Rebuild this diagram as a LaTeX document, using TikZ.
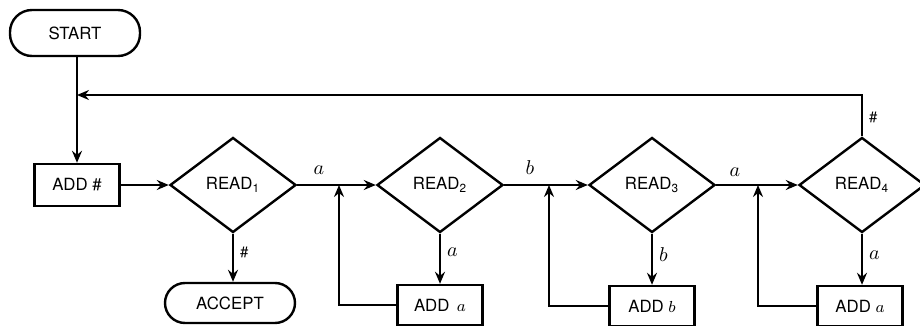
\documentclass[tikz,border=0pt]{standalone}
\usepackage{fontspec}
\setmainfont{TeX Gyre Heros}
\usetikzlibrary{shapes.geometric,arrows.meta,calc}
\begin{document}
\begin{tikzpicture}[x=0.5pt,y=-0.5pt,
  line width=1.2pt,
  font=\fontsize{8.4pt}{10pt}\selectfont,
  term/.style={draw,rounded corners=11pt,minimum width=65pt,minimum height=23pt,inner sep=0pt},
  term2/.style={draw,rounded corners=10pt,minimum width=65pt,minimum height=20pt,inner sep=0pt},
  act/.style={draw,rectangle,minimum width=42.5pt,minimum height=21pt,inner sep=0pt},
  dec/.style={draw,diamond,minimum width=63pt,minimum height=47.5pt,inner sep=0pt},
  arr/.style={-{Stealth[length=6pt,width=5pt,inset=2pt]}},
  lab/.style={inner sep=1pt,font=\fontsize{10pt}{12pt}\selectfont},
  hlab/.style={inner sep=1pt,font=\fontsize{7.5pt}{9pt}\selectfont}
]
\useasboundingbox (0,0) rectangle (920,326);
\node[term] (start) at (75,33) {START};
\node[act] (addh) at (77,185) {ADD \#};
\node[dec] (r1) at (233,185) {READ\textsubscript{1}};
\node[term2] (accept) at (230,303) {ACCEPT};
\node[dec] (r2) at (440,185) {READ\textsubscript{2}};
\node[act,minimum height=20pt] (adda1) at (440,305) {ADD \,$a$};
\node[dec] (r3) at (652,185) {READ\textsubscript{3}};
\node[act,minimum height=20pt] (addb) at (652,306) {ADD $b$};
\node[dec] (r4) at (862,185) {READ\textsubscript{4}};
\node[act,minimum height=20pt] (adda2) at (860,306) {ADD $a$};
\coordinate (fb) at (77,95);
\coordinate (j1) at (339,185);
\coordinate (j2) at (549,185);
\coordinate (j3) at (758,185);
% start to ADD #
\draw[arr] (addh.north |- start.south) -- (addh.north);
% feedback from READ4
\draw[arr] (r4.north) -- (r4.north |- fb) -- (fb);
\node[hlab,anchor=west] at (866,117) {\#};
% ADD # -> READ1
\draw[arr] (addh.east) -- (r1.west);
% READ1 -> ACCEPT
\draw[arr] (r1.south) -- (r1.south |- accept.north);
\node[hlab,anchor=west] at (237,252) {\#};
% READ1 -> READ2
\draw[arr] (r1.east) -- (r2.west);
\node[lab] at (319,170) {$a$};
\draw[arr] (r2.south) -- (r2.south |- adda1.north);
\node[lab,anchor=west] at (444,252) {$a$};
\draw[arr] (adda1.west) -- (adda1.west -| j1) -- (j1);
% READ2 -> READ3
\draw[arr] (r2.east) -- (r3.west);
\node[lab] at (530,168) {$b$};
\draw[arr] (r3.south) -- (r3.south |- addb.north);
\node[lab,anchor=west] at (656,255) {$b$};
\draw[arr] (addb.west) -- (addb.west -| j2) -- (j2);
% READ3 -> READ4
\draw[arr] (r3.east) -- (r4.west);
\node[lab] at (735,172) {$a$};
\draw[arr] (r4.south) -- (r4.south |- adda2.north);
\node[lab,anchor=west] at (866,255) {$a$};
\draw[arr] (adda2.west) -- (adda2.west -| j3) -- (j3);
\end{tikzpicture}
\end{document}
